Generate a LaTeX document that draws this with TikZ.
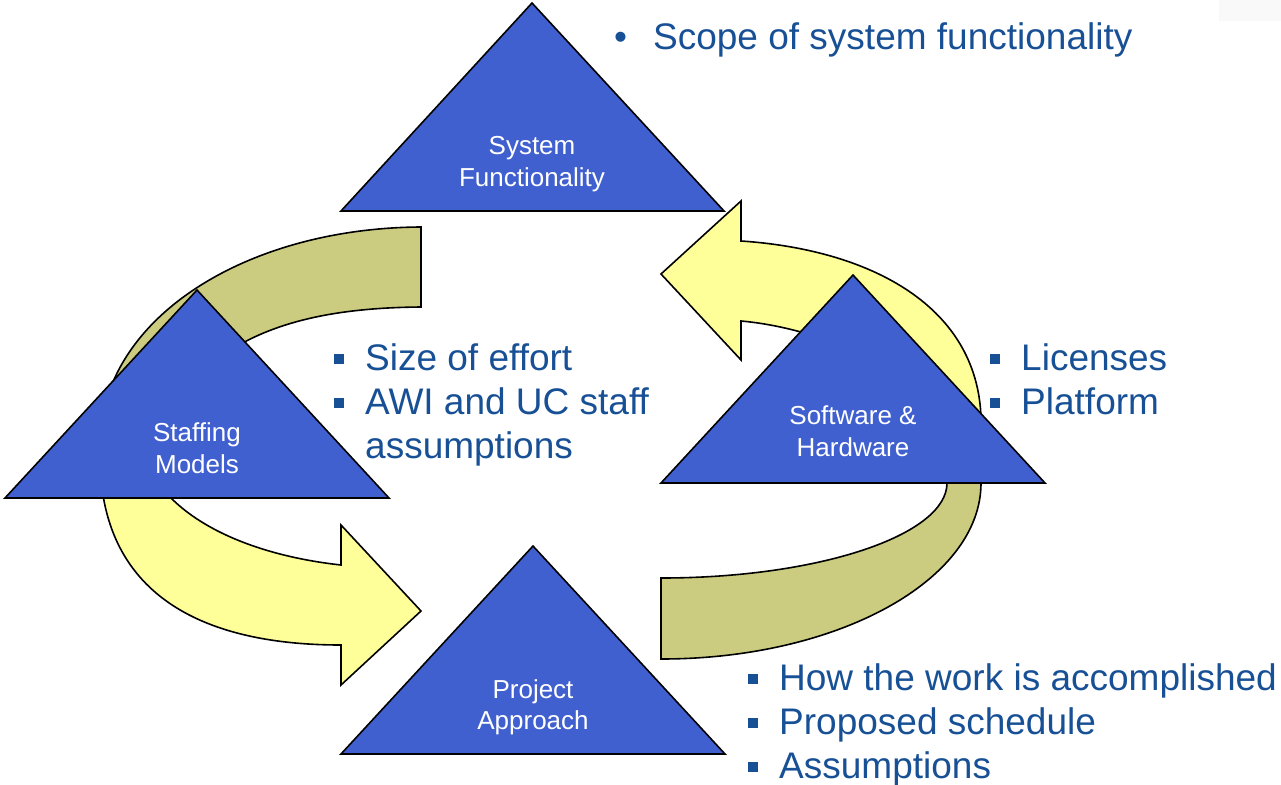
\documentclass[tikz,border=0pt]{standalone}
\usepackage{fontspec}
\setmainfont{Liberation Sans}
\definecolor{triblue}{RGB}{64,96,208}
\definecolor{bandolive}{RGB}{204,204,128}
\definecolor{bandyellow}{RGB}{255,255,153}
\definecolor{listblue}{RGB}{24,80,150}
\definecolor{cornergray}{RGB}{249,249,249}
% square bullet followed by the text indent
\newcommand\sqbullet{\makebox[31pt][l]{\rule[6.5pt]{10pt}{10pt}}}
\newcommand\listindent{\makebox[31pt][l]{}}
\begin{document}
\begin{tikzpicture}[x=1pt,y=-1pt,
  outline/.style={draw=black,line width=1.6pt,line join=miter},
  oliveband/.style={outline,fill=bandolive},
  yellowarrow/.style={outline,fill=bandyellow},
  pyramid/.style={outline,fill=triblue},
  tlabel/.style={text=white,font=\fontsize{26}{31}\selectfont,inner sep=0pt,anchor=base},
  listitem/.style={text=listblue,font=\fontsize{37}{44}\selectfont,inner sep=0pt,anchor=base west}]
\useasboundingbox (0,0) rectangle (1281,784);
\fill[cornergray] (1219,0) rectangle (1281,21);

% left loop: olive band entering the staffing pyramid
\draw[oliveband] (421,227) .. controls (244,228) and (100,320) .. (100,445) -- (100,460)
  -- (145,460) .. controls (190,335) and (300,308) .. (421,307) -- cycle;
% left loop: yellow arrow towards the project approach
\draw[yellowarrow] (100,460) .. controls (102,600) and (210,645) .. (341,645)
  -- (341,685) -- (421,611) -- (341,525) -- (341,565)
  .. controls (250,555) and (170,520) .. (145,460) -- cycle;

% right loop: olive band leaving the project approach
\draw[oliveband] (981,430) -- (981,483) .. controls (981,580) and (838,659) .. (661,659)
  -- (661,578) .. controls (819,578) and (947,535) .. (947,483) -- (950,430) -- cycle;
% right loop: yellow arrow towards system functionality
\draw[yellowarrow] (661,274) -- (741,201) -- (741,241)
  .. controls (875,250) and (985,310) .. (981,430) -- (950,430)
  .. controls (920,370) and (820,328) .. (741,321) -- (741,360) -- cycle;

% the four pyramids
\draw[pyramid] (341,211) -- (532,3) -- (724,211) -- cycle;
\draw[pyramid] (5,498) -- (197,290) -- (389,498) -- cycle;
\draw[pyramid] (661,483) -- (853,275) -- (1045,483) -- cycle;
\draw[pyramid] (341,754) -- (533,546) -- (725,754) -- cycle;

% pyramid labels
\node[tlabel] (sys1) at (532,154) {System};
\node[tlabel] (sys2) at (532,186) {Functionality};
\node[tlabel] (staff1) at (197,441) {Staffing};
\node[tlabel] (staff2) at (197,473) {Models};
\node[tlabel] (soft1) at (853,424) {Software \&};
\node[tlabel] (soft2) at (853,456) {Hardware};
\node[tlabel] (proj1) at (533,698) {Project};
\node[tlabel] (proj2) at (533,729) {Approach};

% notes beside the pyramids
\node[listitem] (scope) at (614,50)
  {\makebox[39pt][l]{\fontsize{37}{37}\selectfont•}Scope of system functionality};
\node[listitem] (effort) at (334,370) {\sqbullet Size of effort};
\node[listitem] (awi) at (334,414) {\sqbullet AWI and UC staff};
\node[listitem] (awi2) at (334,458) {\listindent assumptions};
\node[listitem] (lic) at (990,370) {\sqbullet Licenses};
\node[listitem] (plat) at (990,414) {\sqbullet Platform};
\node[listitem] (how) at (748,690) {\sqbullet How the work is accomplished};
\node[listitem] (sched) at (748,734) {\sqbullet Proposed schedule};
\node[listitem] (assume) at (748,778) {\sqbullet Assumptions};
\end{tikzpicture}
\end{document}
